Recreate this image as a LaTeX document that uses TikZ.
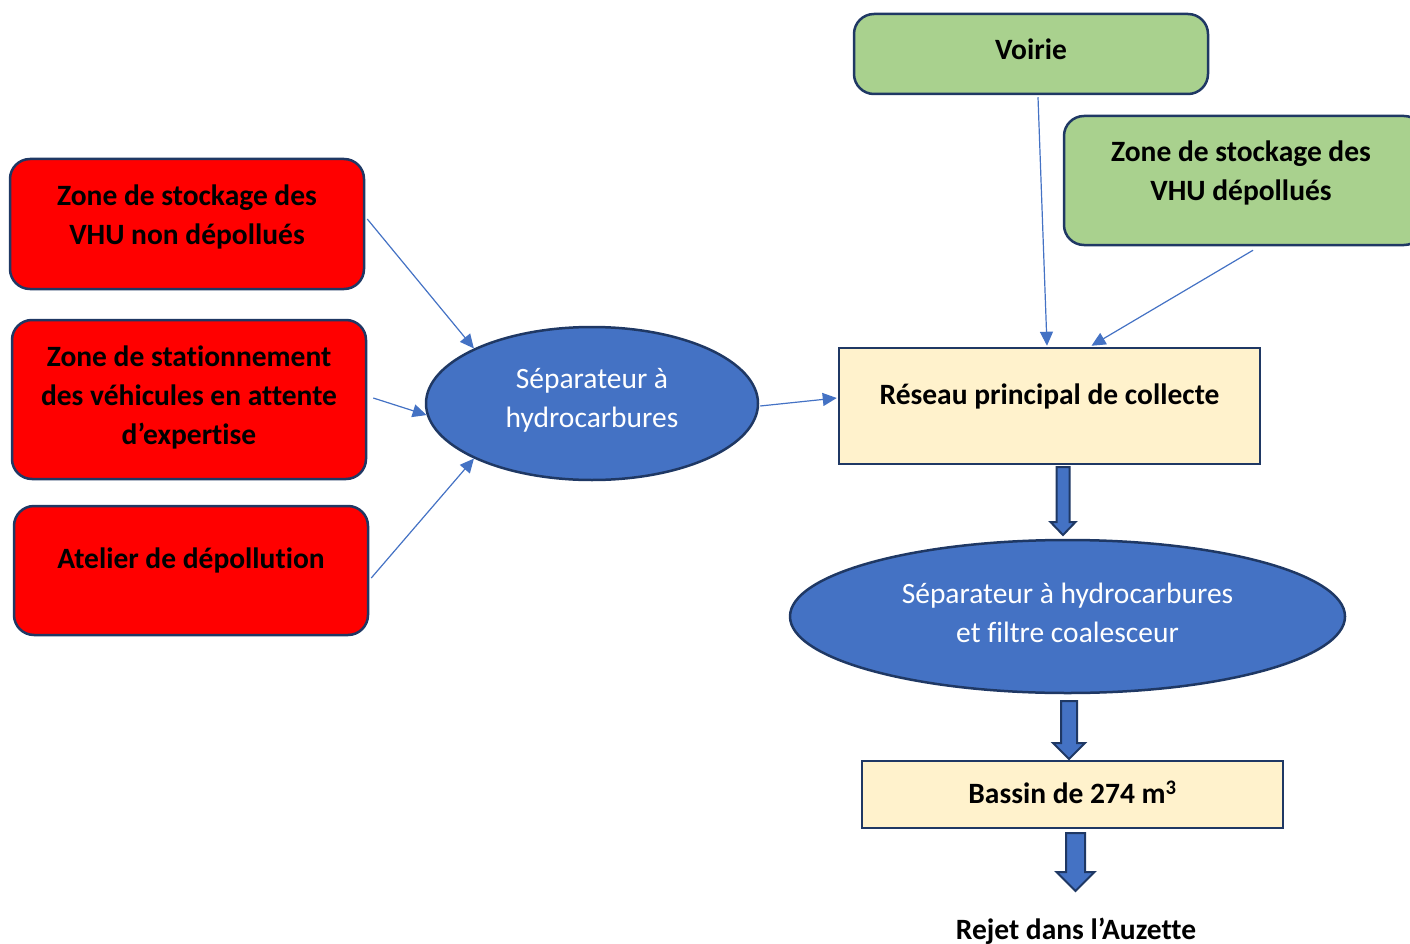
\documentclass[tikz,border=0pt]{standalone}
\usepackage{fontspec}
\setmainfont[RawFeature={-liga}]{Carlito}
\usetikzlibrary{arrows.meta,shapes.geometric,calc}
\definecolor{redfill}{HTML}{FF0000}
\definecolor{greenfill}{HTML}{A9D18E}
\definecolor{yellowfill}{HTML}{FFF2CC}
\definecolor{bluefill}{HTML}{4472C4}
\definecolor{navy}{HTML}{1F3864}
\newcommand\blockarr[6]{\filldraw[barrow] ({#1-#4},#2) -- ({#1+#4},#2) -- ({#1+#4},{#3-#6}) -- ({#1+#5},{#3-#6}) -- (#1,#3) -- ({#1-#5},{#3-#6}) -- ({#1-#4},{#3-#6}) -- cycle;}
\begin{document}
\begin{tikzpicture}[x=1pt,y=-1pt,
  box/.style={draw=navy, line width=2.5pt, inner sep=0pt},
  redbox/.style={box, fill=redfill, rounded corners=20pt},
  greenbox/.style={box, fill=greenfill, rounded corners=20pt},
  ybox/.style={box, fill=yellowfill},
  ell/.style={ellipse, draw=navy, fill=bluefill, line width=2.5pt, inner sep=0pt},
  btxt/.style={font=\bfseries\fontsize{29.5}{39}\selectfont, align=center, text=black, inner sep=0pt},
  wtxt/.style={font=\fontsize{29.5}{39}\selectfont, align=center, text=white, inner sep=0pt},
  conn/.style={draw=bluefill, line width=1.2pt, -{Triangle[length=14pt,width=13pt]}},
  barrow/.style={fill=bluefill, draw=navy, line width=2pt, line join=miter}]
\useasboundingbox (0,0) rectangle (1410,944);

% green boxes
\node[greenbox, minimum width=354pt, minimum height=80pt] (voirie) at (1031,54) {};
\node[btxt] (voirieT) at (1031,49) {Voirie};
\node[greenbox, minimum width=360pt, minimum height=129pt] (vhud) at (1244,180.5) {};
\node[btxt] (vhudT) at (1241,173) {Zone de stockage des\\VHU dépollués};

% red boxes
\node[redbox, minimum width=354pt, minimum height=130pt] (red1) at (187,224) {};
\node[btxt] (red1T) at (187,217) {Zone de stockage des\\VHU non dépollués};
\node[redbox, minimum width=354pt, minimum height=159pt] (red2) at (189,399.5) {};
\node[btxt] (red2T) at (189,397.5) {Zone de stationnement\\des véhicules en attente\\d’expertise};
\node[redbox, minimum width=354pt, minimum height=129pt] (red3) at (191,570.5) {};
\node[btxt] (red3T) at (191,560.5) {Atelier de dépollution};

% ellipses
\node[ell, minimum width=332pt, minimum height=153pt] (ell1) at (592,403.5) {};
\node[wtxt] (ell1T) at (592,400) {Séparateur à\\hydrocarbures};
\node[ell, minimum width=555pt, minimum height=153pt] (ell2) at (1067.5,616.5) {};
\node[wtxt] (ell2T) at (1067.5,613) {Séparateur à hydrocarbures\\et filtre coalesceur};

% yellow boxes
\node[ybox, minimum width=421pt, minimum height=116pt] (reseau) at (1049.5,406) {};
\node[btxt] (reseauT) at (1049.5,396.5) {Réseau principal de collecte};
\node[ybox, minimum width=421pt, minimum height=67pt] (bassin) at (1072.5,794.5) {};
\node[btxt] (bassinT) at (1072.5,792) {Bassin de 274 m\textsuperscript{3}};

\node[btxt] (rejet) at (1076,931) {Rejet dans l’Auzette};

% connectors
\draw[conn] ($(red1.east)+(2,-5)$) -- (ell1.155);
\draw[conn] ($(red2.east)+(6,-1.5)$) -- (ell1.184);
\draw[conn] ($(red3.east)+(2,7.5)$) -- (ell1.205);
\draw[conn] ($(ell1.east)+(1,2.5)$) -- ($(reseau.west)+(-1,-8)$);
\draw[conn] ($(voirie.south)+(7,2)$) -- ($(reseau.north)+(-2.5,-1)$);
\draw[conn] ($(vhud.south)+(9,4)$) -- ($(reseau.north)+(42,-1)$);

% block arrows
\blockarr{1063}{467}{535}{6.5}{12.5}{13}
\blockarr{1069}{701}{759}{8}{16}{16}
\blockarr{1075.5}{833}{891}{9.5}{19}{19}
\end{tikzpicture}
\end{document}
